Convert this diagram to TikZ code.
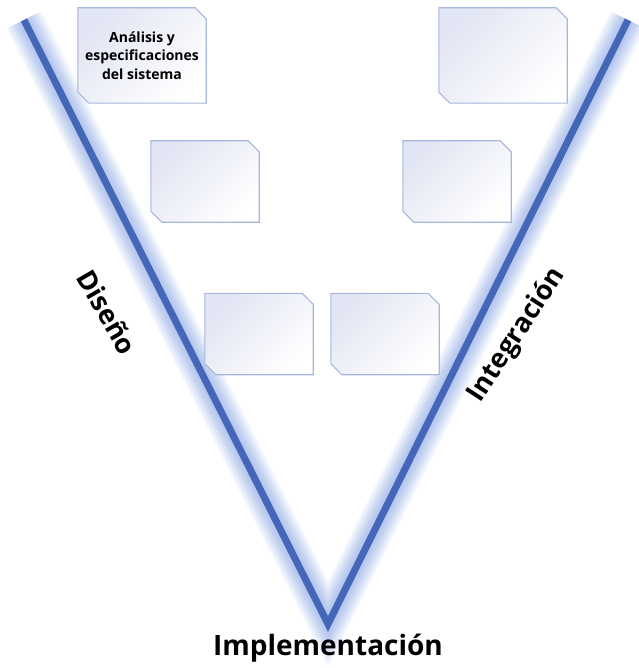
\documentclass[tikz,border=0pt]{standalone}
\usepackage{fontspec}
\setmainfont{Open Sans}
\usetikzlibrary{calc}
\definecolor{vblue}{HTML}{4467B8}
\definecolor{glowblue}{HTML}{7F9EE0}
\definecolor{boxedge}{HTML}{A6B6DC}
\definecolor{boxtint}{HTML}{E2E5F3}
\tikzset{
  stagearea/.style={rectangle, inner sep=0pt, align=center,
    font=\bfseries\fontsize{14}{18.5}\selectfont},
  stageframe/.style={draw=boxedge, line width=1.1pt, line join=miter,
    top color=boxtint, bottom color=white, shading angle=45},
  vline/.style={draw=vblue, line width=7pt, line join=miter, miter limit=20},
  vglow/.style={draw=glowblue, line join=miter, miter limit=20, opacity=0.11},
  phase/.style={font=\bfseries\fontsize{27}{30}\selectfont},
}
% chamfered outline (top-right and bottom-left corners cut) around a node
\newcommand{\stageframe}[1]{%
  \shade[stageframe] (#1.north west) -- ($(#1.north east)+(-11,0)$) -- ($(#1.north east)+(0,11)$)
    -- (#1.south east) -- ($(#1.south west)+(11,0)$) -- ($(#1.south west)+(0,-11)$) -- cycle;}
\begin{document}
\begin{tikzpicture}[x=1pt,y=-1pt]
\useasboundingbox (0,0) rectangle (638,668);
% the V
\coordinate (vl) at (24,20);
\coordinate (vb) at (328,624);
\coordinate (vr) at (628,20);
\foreach \w in {38,33,28,24,20,16,12} {
  \draw[vglow, line width=\w pt] (vl) -- (vb) -- (vr);
}
\draw[vline] (vl) -- (vb) -- (vr);
% stage boxes
\node[stagearea, minimum width=128pt, minimum height=95pt] (a1) at (142,55.5) {};
\node[stagearea, minimum width=128pt, minimum height=95pt] (b1) at (503,55.5) {};
\node[stagearea, minimum width=108pt, minimum height=81pt] (a2) at (205,181.5) {};
\node[stagearea, minimum width=108pt, minimum height=81pt] (b2) at (457,181.5) {};
\node[stagearea, minimum width=108pt, minimum height=81pt] (a3) at (259,334) {};
\node[stagearea, minimum width=108pt, minimum height=81pt] (b3) at (385,334) {};
\foreach \n in {a1,b1,a2,b2,a3,b3} { \stageframe{\n} }
\node[stagearea] (a1t) at (a1) {Análisis y\\especificaciones\\del sistema};
% phase labels
\node[phase, rotate=-60] (dis) at (107,312) {Diseño};
\node[phase, rotate=57] (int) at (517,335) {Integración};
\node[font=\bfseries\fontsize{28}{32}\selectfont] (imp) at (328,648) {Implementación};
\end{tikzpicture}
\end{document}
